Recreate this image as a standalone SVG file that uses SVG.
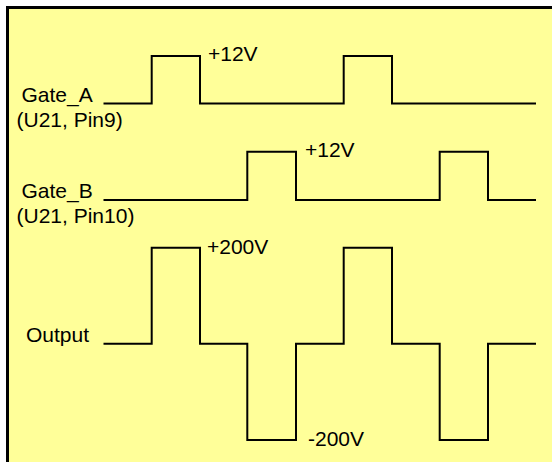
<svg xmlns="http://www.w3.org/2000/svg" width="552" height="462" viewBox="0 0 552 462">
<style>
.lbl{font-family:"Liberation Sans",Arial,sans-serif;font-size:21px;fill:#000}
.wave{fill:none;stroke:#000;stroke-width:2;stroke-linejoin:miter}
</style>
<rect x="7.5" y="7.5" width="560" height="470" fill="#FFFF99" stroke="#000" stroke-width="3"/>
<g id="gate_a">
<text class="lbl" x="21.5" y="102">Gate_A</text>
<text class="lbl" x="16.5" y="127">(U21, Pin9)</text>
<text class="lbl" x="208" y="61">+12V</text>
</g>
<g id="gate_b">
<text class="lbl" x="21.5" y="198">Gate_B</text>
<text class="lbl" x="16.5" y="223">(U21, Pin10)</text>
<text class="lbl" x="305" y="157">+12V</text>
</g>
<g id="output">
<text class="lbl" x="26" y="342">Output</text>
<text class="lbl" x="207" y="254">+200V</text>
<text class="lbl" x="308" y="446">-200V</text>
</g>
<g id="connectors">
<path class="wave" d="M103.5,103.5 H151.7 V56 H200 V103.5 H343.7 V56 H392 V103.5 H536"/>
<path class="wave" d="M103.5,200 H247.3 V151.7 H296 V200 H439.7 V151.7 H488 V200 H536"/>
<path class="wave" d="M103.5,343.7 H151.7 V247.7 H200 V343.7 H247.3 V440 H296 V343.7 H343.7 V247.7 H392 V343.7 H439.7 V440 H488 V343.7 H536"/>
</g>
</svg>
